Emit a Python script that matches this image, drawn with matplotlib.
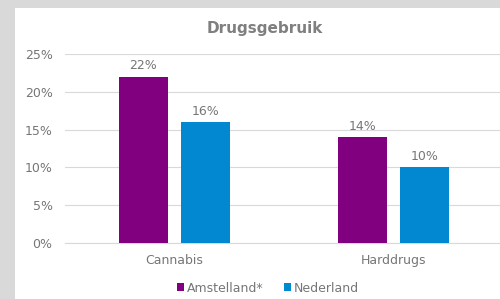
import numpy as np
import matplotlib.pyplot as plt
from matplotlib.patches import Rectangle
from matplotlib.ticker import PercentFormatter

# --- data ---
categories = ['Cannabis', 'Harddrugs']
series_names = ['Amstelland*', 'Nederland']
amstelland = [0.22, 0.14]
nederland = [0.16, 0.10]
colors = ['#800080', '#0288d1']
txt = '#767676'

fig = plt.figure(figsize=(5.0, 2.99), dpi=100)
fig.patch.set_facecolor('#d9d9d9')
# white chart panel
fig.add_artist(Rectangle((15 / 500, 0), 1, 1 - 8 / 299, transform=fig.transFigure,
                         facecolor='white', edgecolor='none', zorder=0))

ax = fig.add_axes([0.13, 1 - 243 / 299, 0.876, (243 - 54) / 299])
ax.set_facecolor('none')

x = np.arange(len(categories))
w = 0.224
off = 0.1416
b1 = ax.bar(x - off, amstelland, w, color=colors[0], label=series_names[0], zorder=3)
b2 = ax.bar(x + off, nederland, w, color=colors[1], label=series_names[1], zorder=3)

for bars, vals in [(b1, amstelland), (b2, nederland)]:
    for rect, v in zip(bars, vals):
        ax.text(rect.get_x() + rect.get_width() / 2, v + 0.006, f'{v * 100:.0f}%',
                ha='center', va='bottom', fontsize=9, color=txt)

ax.set_xlim(-0.5, 1.5)
ax.set_ylim(0, 0.25)
ax.set_yticks(np.arange(0, 0.26, 0.05))
ax.yaxis.set_major_formatter(PercentFormatter(1.0, decimals=0))
ax.set_xticks(x)
ax.set_xticklabels(categories)
ax.tick_params(axis='both', length=0, labelsize=9, colors=txt)
ax.tick_params(axis='y', pad=9)
ax.tick_params(axis='x', pad=8)

for s in ['top', 'right', 'left']:
    ax.spines[s].set_visible(False)
ax.spines['bottom'].set_color('#d9d9d9')
ax.yaxis.grid(True, color='#d9d9d9', linewidth=0.8)
ax.set_axisbelow(True)

fig.text(265 / 500, 1 - 29 / 299, 'Drugsgebruik', ha='center', va='center',
         fontsize=11, fontweight='bold', color='#7f7f7f')

fig.legend(loc='center', bbox_to_anchor=(268 / 500, 1 - 288 / 299), ncol=2,
           frameon=False, fontsize=9, handlelength=0.55, handleheight=0.55,
           handletextpad=0.25, columnspacing=1.6, labelcolor=txt)

fig.savefig('out.png', dpi=100, facecolor=fig.get_facecolor())
